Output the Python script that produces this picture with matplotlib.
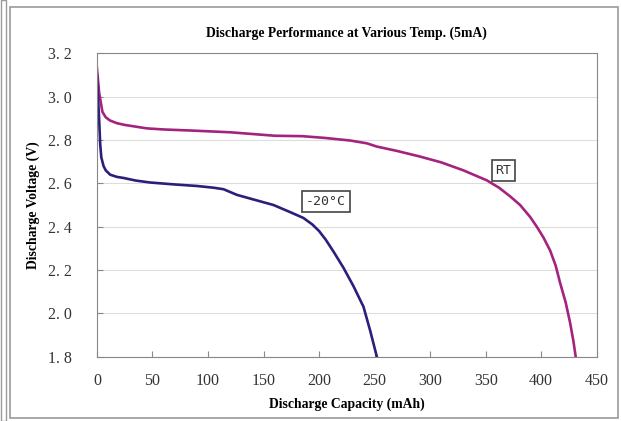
import matplotlib
matplotlib.use("Agg")
import matplotlib.pyplot as plt
from matplotlib.patches import Rectangle

# RT discharge curve (capacity mAh, voltage V)
rt_cap = [0, 2, 5, 8, 12, 18, 25, 35, 45, 60, 85, 120, 160, 185, 205, 228,
          243, 252, 270, 290, 310, 330, 351, 362, 372, 381, 390, 396, 402,
          408, 413, 417, 422, 426, 429, 431]
rt_v = [3.135, 3.02, 2.93, 2.905, 2.89, 2.878, 2.87, 2.862, 2.854, 2.849,
        2.844, 2.836, 2.82, 2.818, 2.81, 2.798, 2.785, 2.77, 2.75, 2.725,
        2.697, 2.66, 2.614, 2.58, 2.54, 2.50, 2.445, 2.40, 2.35, 2.29, 2.22,
        2.14, 2.05, 1.956, 1.87, 1.80]

# -20 degC discharge curve
lt_cap = [0, 1, 2, 3, 4, 6, 8, 12, 18, 24, 35, 48, 70, 90, 105, 114, 120,
          126, 140, 159, 175, 186, 194, 200, 206, 213, 222, 231, 240, 246,
          252]
lt_v = [3.10, 3.00, 2.90, 2.78, 2.72, 2.68, 2.66, 2.64, 2.63, 2.625, 2.613,
        2.604, 2.595, 2.588, 2.58, 2.573, 2.56, 2.547, 2.527, 2.50, 2.465,
        2.44, 2.41, 2.38, 2.34, 2.285, 2.21, 2.125, 2.03, 1.92, 1.80]

x_ticks = [0, 50, 100, 150, 200, 250, 300, 350, 400, 450]
y_ticks = [1.8, 2.0, 2.2, 2.4, 2.6, 2.8, 3.0, 3.2]

serif = ["Liberation Serif", "DejaVu Serif"]

fig = plt.figure(figsize=(6.21, 4.21), dpi=100)
fig.patches.append(Rectangle((10 / 621, 3 / 421), 608 / 621, 411 / 421,
                             transform=fig.transFigure, fill=False,
                             ec="#9a9a9a", lw=1.2))
fig.patches.append(Rectangle((1 / 621, 0), 5 / 621, 1,
                             transform=fig.transFigure, fill=False,
                             ec="#9a9a9a", lw=1.0))
ax = fig.add_axes([0.156, 0.153, 0.805, 0.720])

ax.plot(rt_cap, rt_v, color="#a3237f", lw=1.9)
ax.plot(lt_cap, lt_v, color="#2b1f7c", lw=1.9)

ax.set_xlim(0, 450)
ax.set_ylim(1.8, 3.2)
ax.set_xticks(x_ticks)
ax.set_yticks(y_ticks)
ax.set_xticklabels([str(v) for v in x_ticks], fontfamily=serif, fontsize=11.5,
                   color="#333333")
ax.set_yticklabels([f"{v:.1f}".replace(".", ". ") for v in y_ticks],
                   fontfamily=serif, fontsize=11.5, color="#333333")
ax.tick_params(direction="in", length=4, color="#888888")
ax.tick_params(axis="x", pad=12)
ax.tick_params(axis="y", pad=18)
ax.grid(axis="y", color="#dddddd", lw=0.8)
for sp in ax.spines.values():
    sp.set_color("#888888")

ax.set_title("Discharge Performance at Various Temp. (5mA)", fontfamily=serif,
             fontweight="bold", fontsize=9.8, pad=12)
ax.set_xlabel("Discharge Capacity (mAh)", fontfamily=serif, fontweight="bold",
              fontsize=9.8, labelpad=6)
ax.set_ylabel("Discharge Voltage (V)", fontfamily=serif, fontweight="bold",
              fontsize=9.8, labelpad=6)

box = dict(boxstyle="square,pad=0.3", fc="white", ec="#444444", lw=1.2)
ax.text(366, 2.658, "RT", fontfamily="DejaVu Sans Mono", fontsize=9.5,
        ha="center", va="center", bbox=box, color="#333333")
ax.text(206, 2.515, "-20\u00b0C", fontfamily="DejaVu Sans Mono", fontsize=9.5,
        ha="center", va="center", bbox=box, color="#333333")

fig.savefig("out.png", dpi=100)
